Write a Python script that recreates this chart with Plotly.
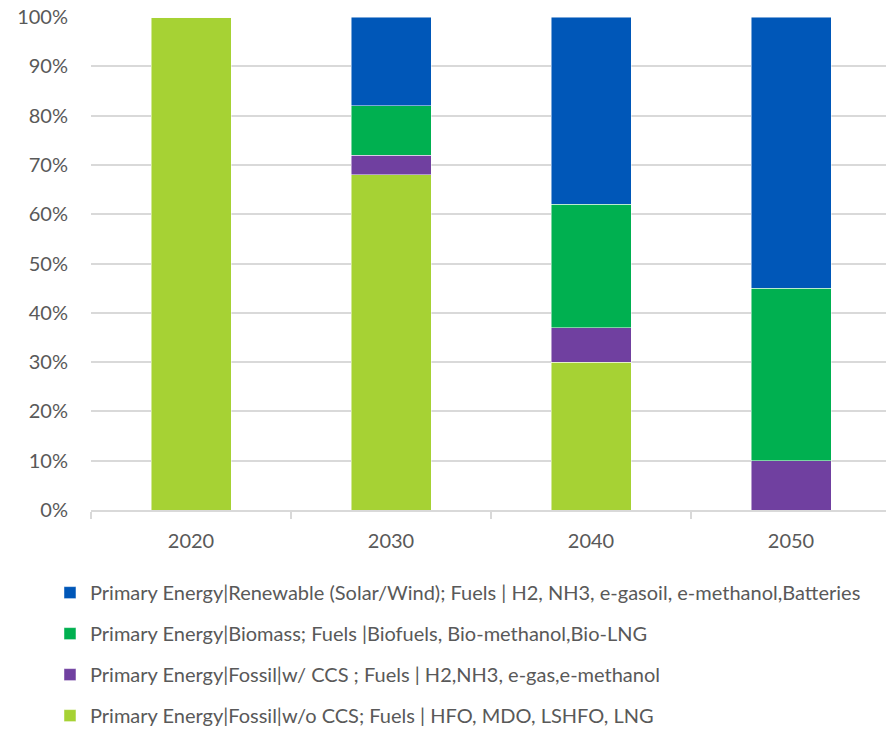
import plotly.graph_objects as go

years = ["2020", "2030", "2040", "2050"]

fossil_no_ccs = [100, 68, 30, 0]
fossil_ccs = [0, 4, 7, 10]
biomass = [0, 10, 25, 35]
renewable = [0, 18, 38, 55]

names = [
    "Primary Energy|Fossil|w/o CCS; Fuels | HFO, MDO, LSHFO, LNG",
    "Primary Energy|Fossil|w/ CCS ; Fuels | H2,NH3, e-gas,e-methanol",
    "Primary Energy|Biomass; Fuels |Biofuels, Bio-methanol,Bio-LNG",
    "Primary Energy|Renewable (Solar/Wind); Fuels | H2, NH3, e-gasoil, e-methanol,Batteries",
]
colors = ["#A6D234", "#7040A0", "#00B050", "#0057B8"]
series = [fossil_no_ccs, fossil_ccs, biomass, renewable]

fig = go.Figure()
for i, (name, vals, col) in enumerate(zip(names, series, colors)):
    fig.add_trace(go.Bar(
        x=years,
        y=[v / 100 for v in vals],
        name=name,
        legendgroup=f"g{i}",
        legendrank=len(names) - i,
        marker=dict(color=col, line=dict(color="rgba(255,255,255,0.6)", width=0.8)),
    ))

font_family = "Source Sans Pro, Lato, sans-serif"

fig.update_layout(
    width=886,
    height=732,
    barmode="stack",
    bargap=0.6,
    plot_bgcolor="white",
    paper_bgcolor="white",
    margin=dict(l=91, r=0, t=17, b=222, autoexpand=False),
    font=dict(family=font_family, size=20, color="#595959"),
    showlegend=True,
    legend=dict(
        traceorder="grouped",
        tracegroupgap=12,
        orientation="v",
        x=-0.0516,
        xanchor="left",
        y=-0.128,
        yanchor="top",
        font=dict(family=font_family, size=20, color="#595959"),
        itemclick=False,
    ),
    xaxis=dict(
        type="category",
        range=[-0.5, 3.475],
        showline=True,
        linecolor="#D9D9D9",
        linewidth=1.5,
        ticks="outside",
        tickson="boundaries",
        tickcolor="#D9D9D9",
        ticklen=7,
        tickwidth=1.5,
        showgrid=False,
        ticklabelstandoff=12,
        tickfont=dict(size=20, color="#595959"),
    ),
    yaxis=dict(
        range=[0, 1.0],
        tickvals=[i / 10 for i in range(11)],
        tickformat=".0%",
        showgrid=True,
        gridcolor="#D9D9D9",
        gridwidth=1.5,
        zeroline=False,
        showline=False,
        ticks="",
        ticklabelstandoff=22,
        tickfont=dict(size=20, color="#595959"),
    ),
)

fig.write_html("out.html")
